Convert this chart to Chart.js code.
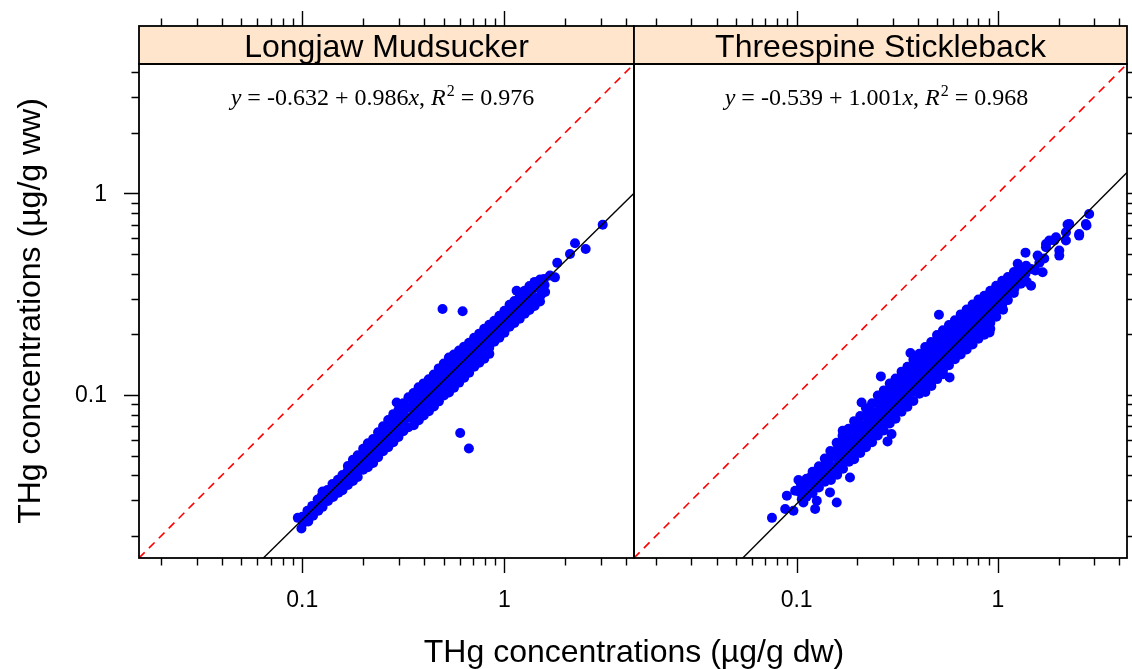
<!DOCTYPE html>
<html>
<head>
<meta charset="utf-8">
<script src="https://cdn.jsdelivr.net/npm/chart.js"></script>
<style>
  html, body { margin: 0; padding: 0; background: #ffffff; }
  #wrap { position: relative; width: 1132px; height: 669px; overflow: hidden; }
  #wrap canvas { position: absolute; left: 0; top: 0; width: 1132px; height: 669px; }
</style>
</head>
<body>
<div id="wrap">
  <canvas id="c1" width="1132" height="669"></canvas>
  <canvas id="c2" width="1132" height="669"></canvas>
</div>
<script>
// ---------------- data ----------------
const panelNames = ['Longjaw Mudsucker', 'Threespine Stickleback'];
const intercepts = [-0.632, -0.539];   // log10 regression intercepts
const slopes = [0.986, 1.001];         // log10 regression slopes
const rSquared = ['0.976', '0.968'];

const axisTicks = [0.02, 0.03, 0.04, 0.05, 0.06, 0.07, 0.08, 0.09, 0.1,
                   0.2, 0.3, 0.4, 0.5, 0.6, 0.7, 0.8, 0.9, 1, 2, 3, 4];
const majorTicks = [0.1, 1];
const tickLabels = ['0.1', '1'];
const axisMin = 0.01556;
const axisMax = 4.375;

const xTitle = 'THg concentrations (\u00B5g/g dw)';
const yTitle = 'THg concentrations (\u00B5g/g ww)';

// [dw, ww] pairs, Longjaw Mudsucker
const mudsuckerPoints = [
[0.095,0.0246],[0.099,0.0218],
[0.100,0.0249],[0.101,0.0233],
[0.106,0.0267],[0.105,0.0249],[0.107,0.0236],
[0.112,0.0282],[0.111,0.0266],[0.113,0.0252],
[0.119,0.0303],[0.118,0.0286],[0.120,0.0267],
[0.126,0.0332],[0.125,0.0317],[0.127,0.0299],[0.126,0.0279],
[0.133,0.0338],[0.132,0.0319],[0.134,0.0298],
[0.141,0.0362],[0.140,0.0338],[0.142,0.0312],
[0.150,0.0380],[0.149,0.0355],[0.151,0.0328],
[0.158,0.0401],[0.157,0.0378],[0.159,0.0357],[0.158,0.0337],
[0.168,0.0445],[0.167,0.0416],[0.169,0.0384],[0.168,0.0358],
[0.178,0.0477],[0.177,0.0440],[0.179,0.0406],[0.178,0.0375],
[0.188,0.0503],[0.187,0.0460],[0.189,0.0424],[0.188,0.0392],
[0.200,0.0541],[0.199,0.0500],[0.201,0.0461],[0.200,0.0426],
[0.211,0.0577],[0.210,0.0527],[0.212,0.0480],[0.211,0.0439],
[0.224,0.0605],[0.223,0.0552],[0.225,0.0504],[0.224,0.0460],
[0.237,0.0654],[0.236,0.0597],[0.238,0.0545],[0.237,0.0492],
[0.251,0.0700],[0.250,0.0639],[0.252,0.0583],[0.251,0.0526],
[0.266,0.0751],[0.265,0.0677],[0.267,0.0611],[0.266,0.0551],
[0.282,0.0804],[0.281,0.0725],[0.283,0.0654],[0.282,0.0584],
[0.293,0.0919],
[0.299,0.0842],[0.298,0.0760],[0.300,0.0685],[0.299,0.0619],
[0.316,0.0909],[0.315,0.0821],[0.317,0.0741],[0.316,0.0661],
[0.335,0.0974],[0.334,0.0869],[0.336,0.0775],[0.335,0.0692],
[0.355,0.1024],[0.354,0.0921],[0.356,0.0841],[0.355,0.0767],[0.356,0.0708],
[0.376,0.1092],[0.375,0.0984],[0.377,0.0890],[0.376,0.0812],[0.377,0.0749],
[0.398,0.1142],[0.397,0.1042],[0.399,0.0951],[0.398,0.0868],[0.399,0.0792],
[0.422,0.1196],[0.421,0.1092],[0.423,0.0996],[0.422,0.0910],[0.423,0.0830],
[0.447,0.1265],[0.446,0.1141],[0.448,0.1042],[0.447,0.0950],[0.448,0.0878],
[0.473,0.1355],[0.472,0.1223],[0.474,0.1116],[0.473,0.1019],[0.474,0.0930],
[0.501,0.1434],[0.500,0.1294],[0.502,0.1181],[0.501,0.1078],[0.502,0.0994],
[0.531,0.1535],[0.530,0.1385],[0.532,0.1250],[0.531,0.1128],[0.532,0.1029],
[0.562,0.1586],[0.561,0.1432],[0.563,0.1307],[0.562,0.1193],[0.563,0.1088],
[0.596,0.1662],[0.595,0.1516],[0.597,0.1384],[0.596,0.1263],[0.597,0.1152],
[0.631,0.1737],[0.630,0.1586],[0.632,0.1447],[0.631,0.1321],[0.632,0.1219],
[0.668,0.1817],[0.667,0.1658],[0.669,0.1513],[0.668,0.1397],[0.669,0.1289],
[0.708,0.1924],[0.707,0.1757],[0.709,0.1603],[0.708,0.1480],[0.709,0.1382],
[0.750,0.2015],[0.749,0.1840],[0.751,0.1678],[0.750,0.1550],[0.751,0.1446],
[0.794,0.2131],[0.793,0.1945],[0.795,0.1774],[0.794,0.1639],[0.795,0.1514],
[0.841,0.2229],[0.840,0.2035],[0.842,0.1856],[0.841,0.1714],[0.842,0.1600],
[0.891,0.2333],[0.890,0.2154],[0.892,0.1987],[0.891,0.1835],
[0.944,0.2470],[0.943,0.2254],[0.945,0.2080],[0.944,0.1921],
[1.00,0.2615],[0.999,0.2387],[1.01,0.2202],[1.00,0.2034],
[1.06,0.2803],[1.05,0.2559],[1.07,0.2361],[1.06,0.2180],
[1.12,0.2927],[1.11,0.2671],[1.13,0.2465],[1.12,0.2277],
[1.149,0.329],
[1.19,0.3072],[1.18,0.2805],[1.20,0.2590],[1.19,0.2390],
[1.26,0.3291],[1.25,0.3003],[1.27,0.2742],[1.26,0.2531],
[1.33,0.3473],[1.32,0.3169],[1.34,0.2893],[1.33,0.2640],
[1.41,0.3637],[1.40,0.3370],[1.42,0.3030],[1.41,0.2764],
[1.50,0.3739],[1.49,0.3411],[1.51,0.3114],[1.50,0.2908],
[1.569,0.376],[1.58,0.3511],[1.59,0.3242],
[1.680,0.391],[1.778,0.383],[1.825,0.452],[2.110,0.500],[2.234,0.565],[2.523,0.530],[3.063,0.699],
[0.494,0.267],[0.621,0.260],[0.604,0.0648],[0.667,0.0543]
];

// [dw, ww] pairs, Threespine Stickleback
const sticklebackPoints = [
[0.0754,0.0246],[0.0877,0.0272],[0.0894,0.0317],[0.0964,0.0267],[0.0983,0.0335],
[0.1021,0.0379],[0.1041,0.0335],[0.108,0.0293],[0.1166,0.0390],[0.1235,0.0272],
[0.1259,0.0299],[0.1464,0.0329],[0.1581,0.0293],[0.1840,0.0390],[0.2828,0.0589],
[0.296,0.0640],[0.575,0.1223],[0.908,0.2044],
[0.1693,0.0665],[0.2102,0.0919],[0.2620,0.1237],[0.3675,0.1616],[0.5091,0.2502],[1.37,0.508],
[0.105,0.0360],[0.104,0.0329],[0.106,0.0304],
[0.112,0.0384],[0.111,0.0355],[0.113,0.0324],[0.112,0.0313],
[0.120,0.0416],[0.119,0.0384],[0.121,0.0355],[0.120,0.0327],
[0.129,0.0443],[0.128,0.0409],[0.130,0.0377],[0.129,0.0348],
[0.138,0.0484],[0.137,0.0447],[0.139,0.0408],[0.138,0.0372],
[0.147,0.0528],[0.146,0.0487],[0.148,0.0445],[0.147,0.0406],[0.148,0.0379],
[0.158,0.0580],[0.157,0.0530],[0.159,0.0484],[0.158,0.0441],[0.159,0.0403],
[0.169,0.0628],[0.168,0.0573],[0.170,0.0523],[0.169,0.0477],[0.170,0.0431],
[0.181,0.0680],[0.180,0.0621],[0.182,0.0567],[0.181,0.0517],[0.182,0.0467],
[0.193,0.0742],[0.192,0.0677],[0.194,0.0618],[0.193,0.0564],[0.194,0.0515],[0.193,0.0481],
[0.207,0.0787],[0.206,0.0718],[0.208,0.0656],[0.207,0.0598],[0.208,0.0546],[0.207,0.0516],
[0.221,0.0860],[0.220,0.0784],[0.222,0.0716],[0.221,0.0653],[0.222,0.0597],[0.221,0.0551],
[0.237,0.0911],[0.236,0.0831],[0.238,0.0759],[0.237,0.0692],[0.238,0.0632],[0.237,0.0584],
[0.253,0.0995],[0.252,0.0908],[0.254,0.0829],[0.253,0.0757],[0.254,0.0690],[0.253,0.0630],
[0.271,0.1054],[0.270,0.0962],[0.272,0.0878],[0.271,0.0801],[0.272,0.0732],[0.271,0.0667],
[0.290,0.1141],[0.289,0.1041],[0.291,0.0950],[0.290,0.0867],[0.291,0.0791],[0.290,0.0722],
[0.310,0.1206],[0.309,0.1100],[0.311,0.1004],[0.310,0.0917],[0.311,0.0837],[0.310,0.0763],
[0.332,0.1306],[0.331,0.1192],[0.333,0.1088],[0.332,0.0993],[0.333,0.0906],[0.332,0.0827],
[0.355,0.1381],[0.354,0.1260],[0.356,0.1150],[0.355,0.1050],[0.356,0.0958],[0.355,0.0874],
[0.380,0.1494],[0.379,0.1364],[0.381,0.1245],[0.380,0.1136],[0.381,0.1037],[0.380,0.0935],
[0.407,0.1601],[0.406,0.1461],[0.408,0.1334],[0.407,0.1217],[0.408,0.1110],[0.407,0.1014],
[0.435,0.1731],[0.434,0.1579],[0.436,0.1442],[0.435,0.1316],[0.436,0.1200],[0.435,0.1096],[0.436,0.1035],
[0.466,0.1833],[0.465,0.1673],[0.467,0.1527],[0.466,0.1394],[0.467,0.1272],[0.466,0.1161],[0.467,0.1109],
[0.498,0.1982],[0.497,0.1807],[0.499,0.1651],[0.498,0.1507],[0.499,0.1374],[0.498,0.1255],[0.499,0.1199],
[0.533,0.2096],[0.532,0.1913],[0.534,0.1746],[0.533,0.1594],[0.534,0.1454],[0.533,0.1327],[0.534,0.1267],
[0.571,0.2221],[0.570,0.2026],[0.572,0.1850],[0.571,0.1688],[0.572,0.1541],[0.571,0.1406],
[0.611,0.2349],[0.610,0.2144],[0.612,0.1957],[0.611,0.1785],[0.612,0.1630],[0.611,0.1505],
[0.653,0.2510],[0.652,0.2291],[0.654,0.2091],[0.653,0.1908],[0.654,0.1742],[0.653,0.1589],
[0.699,0.2656],[0.698,0.2424],[0.700,0.2214],[0.699,0.2020],[0.700,0.1844],[0.699,0.1683],
[0.748,0.2811],[0.747,0.2566],[0.749,0.2341],[0.748,0.2138],[0.749,0.1950],[0.748,0.1779],
[0.800,0.2973],[0.799,0.2712],[0.801,0.2476],[0.800,0.2259],[0.801,0.2062],[0.800,0.1903],
[0.856,0.3107],[0.855,0.2838],[0.857,0.2590],[0.856,0.2363],[0.857,0.2157],[0.856,0.1992],
[0.916,0.3288],[0.915,0.3002],[0.917,0.2740],[0.916,0.2499],[0.917,0.2282],[0.916,0.2131],
[0.980,0.3478],[0.979,0.3175],[0.981,0.2897],[0.980,0.2645],[0.981,0.2441],
[1.05,0.3684],[1.04,0.3363],[1.06,0.3068],[1.05,0.2801],[1.06,0.2647],
[1.12,0.3842],[1.11,0.3506],[1.13,0.3201],[1.12,0.2955],
[1.20,0.4068],[1.19,0.3714],[1.21,0.3388],[1.20,0.3201],
[1.29,0.4276],[1.28,0.3903],[1.30,0.3560],
[1.38,0.4371],[1.37,0.3988],[1.39,0.3641],
[1.253,0.447],[1.460,0.422],[1.460,0.348],[1.666,0.406],[1.574,0.491],[1.732,0.540],
[1.799,0.583],[1.942,0.605],[2.016,0.520],[2.176,0.641],[2.259,0.705],[2.532,0.629],
[2.733,0.705],[2.838,0.790],[1.905,0.583],[2.216,0.700],[2.753,0.692],[2.532,0.617],
[2.016,0.491],[2.176,0.583],[1.732,0.561],[1.605,0.453],[1.699,0.475],[1.533,0.414]
];

const panelPoints = [mudsuckerPoints, sticklebackPoints];

// ---------------- layout / style ----------------
const STRIP_TOP = 26;
const SANS = '"Liberation Sans", Arial, Helvetica, sans-serif';
const SERIF = '"Liberation Serif", "Times New Roman", Times, serif';
const paddings = [
  {left: 139, right: 498, top: 64, bottom: 111},
  {left: 634, right: 5, top: 64, bottom: 111}
];

function drawEquation(ctx, cx, baseY, idx) {
  const a = intercepts[idx].toFixed(3);
  const b = slopes[idx].toFixed(3);
  const F = 24, G = 6;
  const parts = [
    {t: 'y', it: true, g: G}, {t: '=', g: G}, {t: a, g: G}, {t: '+', g: G},
    {t: b, g: 0}, {t: 'x', it: true, g: 0}, {t: ',', g: G},
    {t: 'R', it: true, g: 1}, {t: '2', sup: true, g: G}, {t: '=', g: G}, {t: rSquared[idx], g: 0}
  ];
  const fontOf = p => (p.it ? 'italic ' : '') + (p.sup ? 16 : F) + 'px ' + SERIF;
  let total = 0;
  parts.forEach(p => { ctx.font = fontOf(p); p.w = ctx.measureText(p.t).width; total += p.w + p.g; });
  let x = cx - total / 2;
  ctx.textAlign = 'left';
  ctx.textBaseline = 'alphabetic';
  parts.forEach(p => {
    ctx.font = fontOf(p);
    ctx.fillText(p.t, x, p.sup ? baseY - 9 : baseY);
    x += p.w + p.g;
  });
}

function makePlugin(idx) {
  return {
    id: 'latticeFrame' + idx,
    afterDraw(chart) {
      const ctx = chart.ctx;
      const a = chart.chartArea;
      const xs = chart.scales.x, ys = chart.scales.y;
      ctx.save();
      // strip
      ctx.fillStyle = '#FFE5CC';
      ctx.fillRect(a.left, STRIP_TOP, a.right - a.left, a.top - STRIP_TOP);
      ctx.strokeStyle = '#000000';
      ctx.lineWidth = 1.8;
      ctx.strokeRect(a.left, STRIP_TOP, a.right - a.left, a.top - STRIP_TOP);
      ctx.strokeRect(a.left, a.top, a.right - a.left, a.bottom - a.top);
      ctx.fillStyle = '#000000';
      ctx.font = '32px ' + SANS;
      ctx.textAlign = 'center';
      ctx.textBaseline = 'alphabetic';
      ctx.fillText(panelNames[idx], (a.left + a.right) / 2, 57);

      // ticks
      ctx.lineWidth = 1.4;
      ctx.beginPath();
      axisTicks.forEach(v => {
        const len = majorTicks.includes(v) ? 15 : 7.5;
        const px = Math.round(xs.getPixelForValue(v)) + 0.5;
        if (px > a.left + 0.5 && px < a.right - 0.5) {
          ctx.moveTo(px, a.bottom); ctx.lineTo(px, a.bottom + len);
          ctx.moveTo(px, STRIP_TOP); ctx.lineTo(px, STRIP_TOP - len);
        }
        const py = Math.round(ys.getPixelForValue(v)) + 0.5;
        if (py > a.top && py < a.bottom) {
          if (idx === 0) { ctx.moveTo(a.left, py); ctx.lineTo(a.left - len, py); }
          else { ctx.moveTo(a.right, py); ctx.lineTo(a.right + len, py); }
        }
      });
      ctx.stroke();

      // tick labels
      ctx.font = '23px ' + SANS;
      ctx.textBaseline = 'middle';
      majorTicks.forEach((v, i) => {
        ctx.textAlign = 'center';
        ctx.fillText(tickLabels[i], xs.getPixelForValue(v), 601);
        if (idx === 0) {
          ctx.textAlign = 'right';
          ctx.fillText(tickLabels[i], 107, ys.getPixelForValue(v) + 1);
        }
      });

      // regression equation
      ctx.fillStyle = '#000000';
      drawEquation(ctx, (a.left + a.right) / 2 - 4, 105, idx);

      // axis titles (once)
      if (idx === 0) {
        ctx.font = '32px ' + SANS;
        ctx.textAlign = 'center';
        ctx.textBaseline = 'alphabetic';
        ctx.fillText(xTitle, 634, 662);
        ctx.save();
        ctx.translate(40, 311);
        ctx.rotate(-Math.PI / 2);
        ctx.fillText(yTitle, 0, 0);
        ctx.restore();
      }
      ctx.restore();
    }
  };
}

function makePanel(canvasId, idx) {
  const a = intercepts[idx], b = slopes[idx];
  const fit = x => Math.pow(10, a + b * Math.log10(x));
  new Chart(document.getElementById(canvasId), {
    type: 'scatter',
    data: {
      datasets: [
        {
          label: 'fit',
          data: [{x: axisMin, y: fit(axisMin)}, {x: axisMax, y: fit(axisMax)}],
          showLine: true, borderColor: '#000000', borderWidth: 1.4,
          pointRadius: 0, order: 0
        },
        {
          label: '1:1',
          data: [{x: axisMin, y: axisMin}, {x: axisMax, y: axisMax}],
          showLine: true, borderColor: '#FF0000', borderWidth: 1.6,
          borderDash: [8, 6], pointRadius: 0, order: 0
        },
        {
          label: panelNames[idx],
          data: panelPoints[idx].map(p => ({x: p[0], y: p[1]})),
          backgroundColor: '#0000FF', borderWidth: 0,
          pointRadius: 5, pointHoverRadius: 5, order: 1
        }
      ]
    },
    options: {
      responsive: false,
      animation: false,
      devicePixelRatio: 1,
      layout: {padding: paddings[idx]},
      events: [],
      scales: {
        x: {type: 'logarithmic', min: axisMin, max: axisMax, display: false, bounds: 'data'},
        y: {type: 'logarithmic', min: axisMin, max: axisMax, display: false, bounds: 'data'}
      },
      plugins: {legend: {display: false}, tooltip: {enabled: false}, title: {display: false}}
    },
    plugins: [makePlugin(idx)]
  });
}

makePanel('c1', 0);
makePanel('c2', 1);
</script>
</body>
</html>
